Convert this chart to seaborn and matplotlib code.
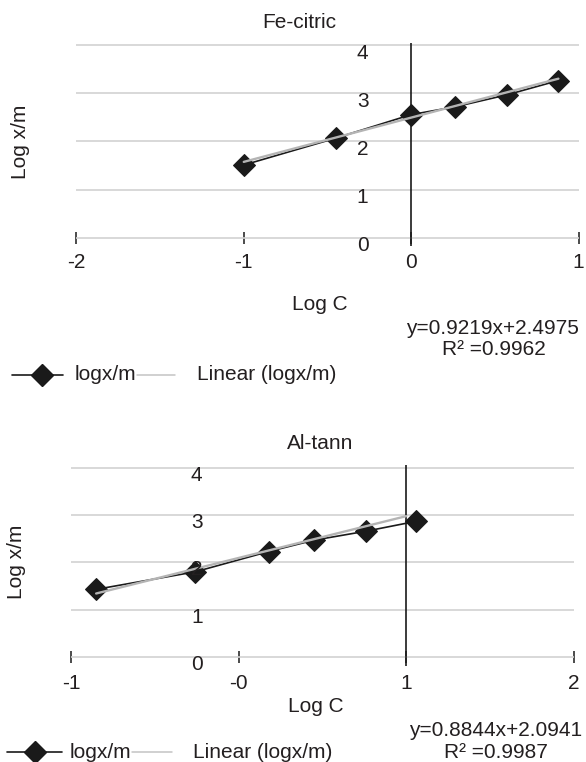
import matplotlib
matplotlib.use("Agg")
import matplotlib.pyplot as plt
from matplotlib.lines import Line2D
import numpy as np
import pandas as pd
import seaborn as sns

# ---------------- data ----------------
fe_logc = [-1.00, -0.45, 0.00, 0.26, 0.57, 0.88]
fe_logxm = [1.51, 2.07, 2.56, 2.72, 2.97, 3.27]
fe_slope, fe_intercept = 0.9219, 2.4975
fe_trend_range = [-1.00, 0.88]

al_logc = [-0.85, -0.26, 0.18, 0.45, 0.76, 1.06]
al_logxm = [1.43, 1.80, 2.23, 2.47, 2.66, 2.87]
al_slope, al_intercept = 0.8844, 2.0941
al_trend_range = [-0.85, 1.00]

fe_xticks = [-2, -1, 0, 1]
fe_xticklabels = ["-2", "-1", "0", "1"]
al_xticks = [-1, 0, 1, 2]
al_xticklabels = ["-1", "-0", "1", "2"]
yticks = [0, 1, 2, 3, 4]

# ---------------- style ----------------
sns.set_theme(style="white")
plt.rcParams["font.family"] = ["Liberation Sans", "DejaVu Sans"]
TXT = "#231f20"
FS = 15

W, H = 586, 762
fig = plt.figure(figsize=(W / 100, H / 100), dpi=100)

YLO, YHI = -0.4, 4.3


def make_axes(x0px, x1px, xlo, xhi, y0px_top, unit):
    # y0px_top: pixel (from top) of y=0 ; unit: px per y unit
    y0_from_bottom = H - y0px_top
    bottom = y0_from_bottom + YLO * unit
    height = (YHI - YLO) * unit
    ax = fig.add_axes([x0px / W, bottom / H, (x1px - x0px) / W, height / H])
    ax.set_xlim(xlo, xhi)
    ax.set_ylim(YLO, YHI)
    ax.patch.set_alpha(0)
    return ax, bottom, height


def draw_panel(ax, xs, ys, slope, intercept, trange, xticks, xticklabels,
               vline_x, ylab_x, title, title_xy, xlabel_xy, ylabel_xy, pad):
    xlo, xhi = ax.get_xlim()
    # gridlines
    ax.hlines(yticks, xlo, xhi, color="#d2d2d2", lw=1.2, zorder=1)
    # vertical axis line
    ax.vlines(vline_x, -0.18, 4.05, color="#1a1a1a", lw=1.2, zorder=2)
    # data line with diamonds
    df = pd.DataFrame({"x": xs, "y": ys})
    sns.lineplot(data=df, x="x", y="y", ax=ax, color="#1a1a1a", lw=1.2,
                 marker="D", markersize=11.0, markeredgecolor="#1a1a1a",
                 estimator=None, sort=False, zorder=3)
    # trend line
    tx = np.array(trange)
    tdf = pd.DataFrame({"x": tx, "y": slope * tx + intercept})
    sns.lineplot(data=tdf, x="x", y="y", ax=ax, color="#b4b4b4", lw=1.7,
                 estimator=None, zorder=4)
    # axes decorations
    for s in ["top", "right", "left"]:
        ax.spines[s].set_visible(False)
    ax.spines["bottom"].set_position(("data", 0))
    ax.spines["bottom"].set_visible(False)
    ax.set_xticks(xticks)
    ax.set_xticklabels(xticklabels)
    ax.tick_params(axis="x", direction="inout", length=8.6, width=1.1,
                   color="#1a1a1a", labelsize=FS, labelcolor=TXT, pad=pad,
                   bottom=True)
    ax.set_yticks([])
    for k in yticks:
        ax.text(ylab_x, k - 0.16, str(k), ha="center", va="center",
                fontsize=FS, color=TXT, zorder=5)
    ax.set_xlabel("Log C", fontsize=FS, color=TXT, va="center")
    ax.xaxis.set_label_coords(*xlabel_xy)
    ax.set_ylabel("Log x/m", fontsize=FS, color=TXT, va="center")
    ax.yaxis.set_label_coords(*ylabel_xy)
    ax.set_title(title, fontsize=FS, color=TXT, va="center", y=title_xy[1],
                 pad=0)
    ax.title.set_x(title_xy[0])


def px_to_axes(ax_rect, xpx, ypx_top):
    x0, b, w, h = ax_rect
    return ((xpx - x0) / w, ((H - ypx_top) - b) / h)


# ---- top panel (Fe-citric)
ax1, b1, h1 = make_axes(76.4, 578.5, -2, 1, 237.5, 48.0)
r1 = (76.4, b1, 578.5 - 76.4, h1)
draw_panel(ax1, fe_logc, fe_logxm, fe_slope, fe_intercept, fe_trend_range,
           fe_xticks, fe_xticklabels, 0, -0.29, "Fe-citric",
           px_to_axes(r1, 299, 23), px_to_axes(r1, 320, 304),
           px_to_axes(r1, 20.7, 142), pad=6.6)

# ---- bottom panel (Al-tann)
ax2, b2, h2 = make_axes(71.0, 574.0, -1, 2, 657.0, 47.3)
r2 = (71.0, b2, 574.0 - 71.0, h2)
draw_panel(ax2, al_logc, al_logxm, al_slope, al_intercept, al_trend_range,
           al_xticks, al_xticklabels, 1, -0.25, "Al-tann",
           px_to_axes(r2, 320, 443), px_to_axes(r2, 316, 707),
           px_to_axes(r2, 17, 562), pad=7.8)


# ---- equations and legends (figure pixel coordinates)
def ftext(xpx, ypx, s, **kw):
    fig.text(xpx / W, 1 - ypx / H, s, fontsize=FS, color=TXT, **kw)


ftext(492, 328, "y=0.9219x+2.4975", ha="center", va="center")
ftext(494, 350, "R² =0.9962", ha="center", va="center")
ftext(496, 730, "y=0.8844x+2.0941", ha="center", va="center")
ftext(496, 752, "R² =0.9987", ha="center", va="center")


def legend(ypx, l0, l1, dx, tx1, g0, g1, tx2):
    yf = 1 - ypx / H
    fig.add_artist(Line2D([l0 / W, l1 / W], [yf, yf], color="#1a1a1a", lw=1.2,
                          transform=fig.transFigure))
    fig.add_artist(Line2D([dx / W], [yf], color="#1a1a1a", marker="D",
                          markersize=11.5, lw=0, transform=fig.transFigure))
    ftext(tx1, ypx, "logx/m", ha="left", va="center")
    fig.add_artist(Line2D([g0 / W, g1 / W], [yf, yf], color="#c4c4c4", lw=1.1,
                          transform=fig.transFigure))
    ftext(tx2, ypx, "Linear (logx/m)", ha="left", va="center")


legend(375, 12, 63, 42, 75, 137, 175, 197)
legend(752, 7, 62, 35, 70, 132, 172, 193)

fig.savefig("out.png", dpi=100)
